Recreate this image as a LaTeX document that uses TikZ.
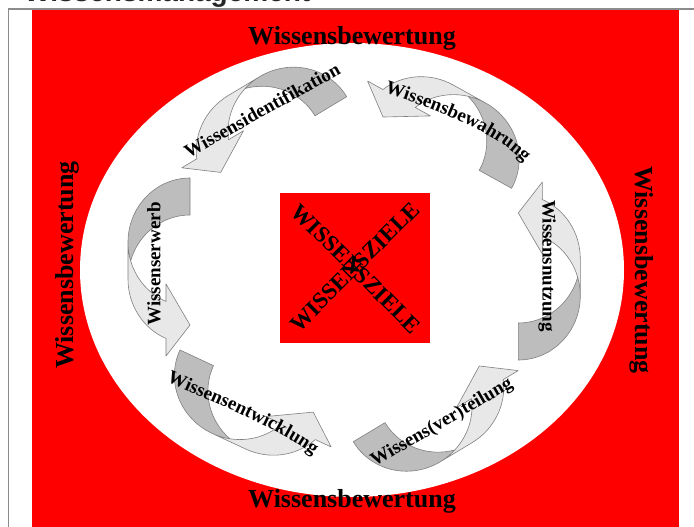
\documentclass[tikz,border=0pt]{standalone}
\usepackage{fontspec}
\usetikzlibrary{decorations.text}
\setmainfont{Liberation Serif}
\newfontfamily\titlefont{Liberation Sans}

% One curved ribbon arrow: dark back face at the start (local origin),
% light front face arching over and ending in a head.
% #1,#2: position of the outer start corner (x right, y down), #3: rotation.
\newcommand{\knowarrow}[3]{%
  \begin{scope}[shift={(#1,-#2)}, rotate=#3, xscale=-1]
    \fill[lightpart] (147,0) -- (105.99,24) -- (123.49,24)
      arc[start angle=22.77, end angle=90, x radius=64.25, y radius=62]
      -- (101.25,62)
      arc[start angle=90, end angle=22.77, x radius=64.25, y radius=62]
      -- (177.99,24) -- cycle;
    \fill[darkpart] (82.75,59.37)
      arc[start angle=106.73, end angle=180, x radius=64.25, y radius=62]
      -- (0,0)
      arc[start angle=180, end angle=73.27, x radius=64.25, y radius=62]
      -- cycle;
    \draw[rimline] (82.75,59.37)
      arc[start angle=106.73, end angle=180, x radius=64.25, y radius=62]
      -- (0,0)
      arc[start angle=180, end angle=90, x radius=64.25, y radius=62]
      -- (101.25,62)
      arc[start angle=90, end angle=22.77, x radius=64.25, y radius=62]
      -- (177.99,24) -- (147,0) -- (105.99,24) -- (123.49,24)
      arc[start angle=22.77, end angle=90, x radius=64.25, y radius=62];
  \end{scope}}

\begin{document}
\begin{tikzpicture}[x=1pt, y=1pt,
  lightpart/.style={fill=black!9},
  darkpart/.style={fill=black!26},
  rimline/.style={draw=black!50, line width=0.6pt, line join=round},
  evallabel/.style={font=\bfseries\fontsize{26}{26}\selectfont, inner sep=0pt},
  steplabel/.style={font=\bfseries\fontsize{19}{19}\selectfont, inner sep=0pt},
  goallabel/.style={font=\bfseries\fontsize{23}{23}\selectfont, inner sep=0pt},
  curvedlabel/.style={decorate, decoration={text along path, text align=center,
    text={|\bfseries\fontsize{19}{19}\selectfont|#1}}}]

\useasboundingbox (0,0) rectangle (694,-527);
\fill[white] (0,0) rectangle (694,-527);

% red field with the white oval
\fill[red] (32,-10) rectangle (679,-540);
\fill[white] (352,-270) ellipse[x radius=272, y radius=227];

% frame
\draw[black!45, line width=1.5pt] (8.5,-560) -- (8.5,-9) -- (720,-9);

% heading, mostly above the page edge
\node[font=\titlefont\bfseries\fontsize{28}{28}\selectfont, text=black!85,
  anchor=base west, inner sep=0pt] (title) at (24,-1.5) {Wissensmanagement};

% evaluation on all four sides
\node[evallabel, anchor=base] (evalN) at (352,-45) {Wissensbewertung};
\node[evallabel, anchor=base] (evalS) at (352,-507) {Wissensbewertung};
\node[evallabel, anchor=base, rotate=90] (evalW) at (73,-265) {Wissensbewertung};
\node[evallabel, anchor=base, rotate=-90] (evalE) at (635,-270) {Wissensbewertung};

% goals in the middle
\node[fill=red, minimum size=150pt, inner sep=0pt] (goalbox) at (355,-268) {};
\node[goallabel, rotate=-45] (goalA) at (356,-269) {WISSENSZIELE};
\node[goallabel, rotate=45] (goalB) at (355,-267) {WISSENSZIELE};

% the cycle of building blocks
\knowarrow{346.7}{96.7}{31}
\knowarrow{511.6}{188.3}{-29}
\knowarrow{190}{178}{90}
\knowarrow{180}{350}{155}
\knowarrow{353.3}{441.7}{211}
\knowarrow{518.3}{360}{-90}

\node[steplabel, rotate=29] (lblIdent) at (262,-110) {Wissensidentifikation};
\node[steplabel, rotate=90] (lblErwerb) at (154,-264) {Wissenserwerb};
\node[steplabel, rotate=30] (lblVert) at (442,-423) {Wissens(ver)teilung};
\node[steplabel, rotate=-90] (lblNutz) at (547,-266) {Wissensnutzung};

% labels that bend with their arrows
\path[curvedlabel=Wissensbewahrung]
  (361.2,-85.2) -- (385,-93) .. controls (430,-108) and (490,-128) .. (524,-162)
  -- (541.7,-179.7);
\path[curvedlabel=Wissensentwicklung]
  (144.7,-373) -- (168,-382) .. controls (214.7,-402.9) and (277.5,-428.1) .. (312,-454)
  -- (331.2,-470);

\end{tikzpicture}
\end{document}
